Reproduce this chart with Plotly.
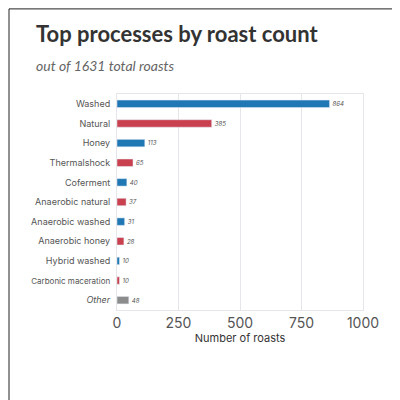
import plotly.graph_objects as go

categories = ["Washed", "Natural", "Honey", "Thermalshock", "Coferment", "Anaerobic natural",
              "Anaerobic washed", "Anaerobic honey", "Hybrid washed", "Carbonic maceration", "Other"]
values = [864, 385, 113, 65, 40, 37, 31, 28, 10, 10, 48]
colors = ["#1f77b4", "#c9404f"] * 5 + ["#8c8c8c"]
tick_labels = categories[:9] + ["<span style='font-size:8px'>Carbonic maceration</span>", "<i>Other</i>"]

fig = go.Figure(go.Bar(
    x=values, y=categories, orientation="h", marker_color=colors, width=0.38,
    text=[f"<i>{v}</i>" for v in values], textposition="outside",
    textfont=dict(size=9, color="#555", family="Inter"), cliponaxis=False,
))
fig.update_layout(
    width=400, height=400, margin=dict(l=109, r=45, t=86, b=98),
    paper_bgcolor="white", plot_bgcolor="white",
    title=dict(text="<b>Top processes by roast count</b><br><span style='font-size:14px;color:#666'><i>out of 1631 total roasts</i></span>",
               x=0.07, xanchor="left", y=0.915, yanchor="top",
               font=dict(family="Lato", size=22, color="#333")),
    showlegend=False, font=dict(family="Inter", color="#555"),
    shapes=[dict(type="rect", xref="paper", yref="paper", x0=-0.439, x1=1.175, y0=-0.444, y1=1.394,
                 line=dict(color="#222", width=1))],
)
fig.update_xaxes(range=[0, 1000], tickvals=[0, 250, 500, 750, 1000], gridcolor="#e6e6ea",
                 showline=True, linecolor="#e6e6ea", mirror=True, zeroline=False,
                 tickfont=dict(size=14, color="#555"), ticks="",
                 title=dict(text="Number of roasts", font=dict(size=11, color="#333"), standoff=4))
fig.update_yaxes(autorange="reversed", tickvals=categories, ticktext=tick_labels,
                 tickfont=dict(size=9, color="#555"), showline=True, linecolor="#e6e6ea", mirror=True,
                 ticks="outside", ticklen=4, tickcolor="white")
fig.write_html("out.html")
